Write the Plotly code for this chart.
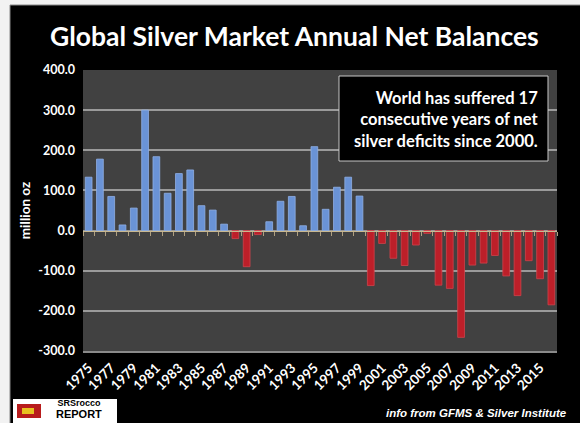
import plotly.graph_objects as go

years = list(range(1975, 2017))
balances = [133, 178, 85, 14, 56, 300, 184, 93, 142, 151, 62, 51, 16,
            -20, -90, -10, 22, 73, 85, 12, 209, 53, 108, 133, 86,
            -137, -32, -69, -87, -36, -7, -136, -144, -266, -86, -81,
            -62, -113, -162, -75, -120, -185]
tick_years = list(range(1975, 2016, 2))
y_ticks = [-300, -200, -100, 0, 100, 200, 300, 400]
y_tick_text = [f"{v:.1f}" for v in y_ticks]

W, H = 580, 423
L, R, T, B = 83, 23, 70, 72
PW, PH = W - L - R, H - T - B

def px(x):
    return (x - L) / PW

def py(y):
    return (H - B - y) / PH

colors = ["#6a93d6" if v >= 0 else "#bd1f29" for v in balances]
lines = ["#8fb0e6" if v >= 0 else "#d0434b" for v in balances]

fig = go.Figure()
fig.add_trace(go.Bar(x=years, y=balances, marker=dict(color=colors, line=dict(color=lines, width=0.8)),
                     width=0.6, hoverinfo="x+y"))
# invisible trace for the zero-line axis with ticks
fig.add_trace(go.Scatter(x=[years[0], years[-1]], y=[0, 0], xaxis="x2", mode="lines",
                         line=dict(color="rgba(0,0,0,0)"), hoverinfo="skip", showlegend=False))

fig.update_layout(
    width=W, height=H,
    margin=dict(l=L, r=R, t=T, b=B),
    paper_bgcolor="black",
    plot_bgcolor="#414141",
    showlegend=False,
    xaxis=dict(range=[1974.5, 2016.5], tickvals=tick_years, ticktext=[str(y) for y in tick_years],
               tickangle=-45, tickfont=dict(family="Lato", size=13.5, color="white", weight="bold"),
               ticklabelstandoff=2,
               showgrid=False, zeroline=False, showline=True, linecolor="#8a8a8a", linewidth=1.5,
               ticks="", fixedrange=True),
    xaxis2=dict(range=[1974.5, 2016.5], overlaying="x", anchor="free", position=3 / 7,
                tickvals=[y + 0.5 for y in range(1974, 2017)], ticks="outside", ticklen=4,
                tickcolor="#b0a080", showticklabels=False, showgrid=False, zeroline=False,
                showline=True, linecolor="#c8b890", linewidth=1),
    yaxis=dict(range=[-300, 400], tickvals=y_ticks, ticktext=y_tick_text,
               tickfont=dict(family="Lato", size=12.5, color="white", weight="bold"),
               ticklabelstandoff=7,
               showgrid=True, gridcolor="#9a9a9a", gridwidth=1.5, zeroline=False,
               title=dict(text="million oz", font=dict(family="Lato", size=13.5, color="white", weight="bold"),
                          standoff=4),
               ticks="", fixedrange=True),
    shapes=[
        dict(type="rect", xref="paper", yref="paper", x0=px(-5), x1=px(10), y0=py(-5), y1=py(H + 5),
             fillcolor="#f2f2f2", line=dict(width=0), layer="above"),
        dict(type="rect", xref="paper", yref="paper", x0=px(-5), x1=px(W + 5), y0=py(-5), y1=py(5),
             fillcolor="#f2f2f2", line=dict(width=0), layer="above"),
        dict(type="line", xref="paper", yref="paper", x0=px(10), x1=px(10), y0=py(5), y1=py(H + 5),
             line=dict(color="#888888", width=1)),
        dict(type="line", xref="paper", yref="paper", x0=px(10), x1=px(W + 5), y0=py(5), y1=py(5),
             line=dict(color="#888888", width=1)),
        # note box
        dict(type="rect", xref="paper", yref="paper", x0=px(339), x1=px(548), y0=py(161), y1=py(76),
             fillcolor="black", line=dict(color="#c8c8c8", width=1)),
        # logo
        dict(type="rect", xref="paper", yref="paper", x0=px(13), x1=px(117), y0=py(423), y1=py(399),
             fillcolor="white", line=dict(width=0)),
        dict(type="rect", xref="paper", yref="paper", x0=px(17), x1=px(41), y0=py(418), y1=py(404),
             fillcolor="#b81c1c", line=dict(width=0)),
        dict(type="rect", xref="paper", yref="paper", x0=px(22), x1=px(34), y0=py(414), y1=py(408),
             fillcolor="#e8c020", line=dict(width=0)),
    ],
    annotations=[
        dict(text="Global Silver Market Annual Net Balances", xref="paper", yref="paper",
             x=px(294), y=py(36), xanchor="center", yanchor="middle", showarrow=False,
             font=dict(family="Lato", size=26.5, color="white", weight="bold")),
        dict(text="World has suffered 17<br>consecutive years of net<br>silver deficits since 2000.",
             xref="paper", yref="paper", x=px(541), y=py(119), xanchor="right", yanchor="middle",
             align="right", showarrow=False,
             font=dict(family="Lato", size=16.5, color="white", weight="bold")),
        dict(text="<i>info from GFMS & Silver Institute</i>", xref="paper", yref="paper",
             x=px(476), y=py(413), xanchor="center", yanchor="middle", showarrow=False,
             font=dict(family="Liberation Sans", size=11.5, color="white", weight="bold")),
        dict(text="SRSrocco<br><span style='font-size:11px'>REPORT</span>", xref="paper", yref="paper",
             x=px(79), y=py(409), xanchor="center", yanchor="middle", showarrow=False,
             font=dict(family="Liberation Sans", size=9, color="black", weight="bold")),
    ],
)

fig.write_html("out.html")
